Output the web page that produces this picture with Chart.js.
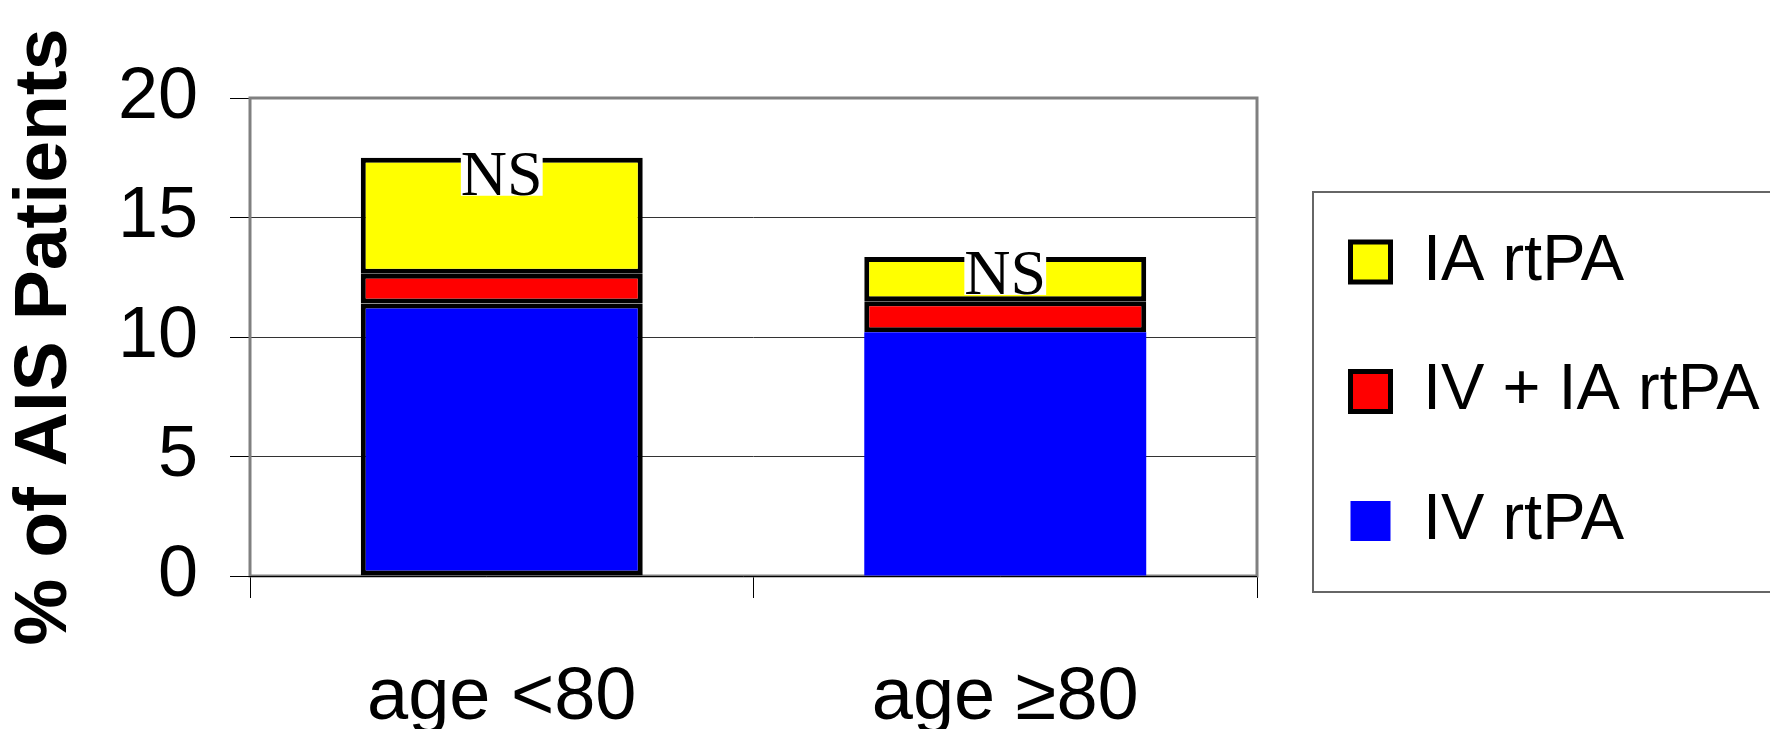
<!DOCTYPE html>
<html>
<head>
<meta charset="utf-8">
<script src="https://cdn.jsdelivr.net/npm/chart.js@4.4.1/dist/chart.umd.min.js"></script>
<style>
  html, body { margin: 0; padding: 0; background: #fff; overflow: hidden; }
  #wrap { width: 1770px; height: 729px; position: relative; }
</style>
</head>
<body>
<div id="wrap"><canvas id="rtpaChart"></canvas></div>
<script>
// Data
const categories = ['age <80', 'age \u226580'];
const ivRtpa = [11.4, 10.2];
const ivIaRtpa = [1.25, 1.3];
const iaRtpa = [4.85, 1.85];
const sigLabels = ['NS', 'NS'];
const yTicks = [0, 5, 10, 15, 20];

const sans = 'Arial, "Liberation Sans", sans-serif';

// grey frame around the plot area + black baseline
const plotFrame = {
    id: 'plotFrame',
    beforeDatasetsDraw(chart) {
        const { ctx, chartArea: a } = chart;
        ctx.save();
        ctx.strokeStyle = '#808080';
        ctx.lineWidth = 3;
        ctx.strokeRect(a.left, a.top, a.right - a.left, a.bottom - a.top);
        ctx.strokeStyle = '#000';
        ctx.lineWidth = 1;
        ctx.beginPath();
        ctx.moveTo(a.left - 20, a.bottom + 0.5);
        ctx.lineTo(a.right, a.bottom + 0.5);
        ctx.stroke();
        ctx.restore();
    }
};

// "NS" labels with white backing on top of each stack
const nsLabels = {
    id: 'nsLabels',
    afterDatasetsDraw(chart) {
        const { ctx } = chart;
        const meta = chart.getDatasetMeta(chart.data.datasets.length - 1);
        ctx.save();
        ctx.font = '64px "Liberation Serif", "Times New Roman", serif';
        ctx.textAlign = 'center';
        ctx.textBaseline = 'alphabetic';
        meta.data.forEach((bar, i) => {
            const txt = sigLabels[i];
            const w = ctx.measureText(txt).width;
            const base = bar.y + 37;
            ctx.fillStyle = '#fff';
            ctx.fillRect(bar.x - w / 2, base - 43, w, 44);
            ctx.fillStyle = '#000';
            ctx.fillText(txt, bar.x, base);
        });
        ctx.restore();
    }
};

// legend: fixed width, placed like the original and framed
const legendPlace = {
    id: 'legendPlace',
    beforeInit(chart) {
        const lg = chart.legend;
        if (!lg) return;
        const fit = lg.fit;
        lg.fit = function () {
            fit.call(this);
            this.width = 513;
        };
    },
    afterLayout(chart) {
        const lg = chart.legend;
        if (!lg) return;
        const w = lg.width, h = lg.height;
        lg.left = 1286; lg.right = lg.left + w;
        lg.top = 165; lg.bottom = lg.top + h;
    },
    afterDraw(chart) {
        const { ctx } = chart;
        ctx.save();
        ctx.strokeStyle = '#666';
        ctx.lineWidth = 2;
        ctx.strokeRect(1313, 192, 520, 400);
        ctx.restore();
    }
};

const ctx = document.getElementById('rtpaChart').getContext('2d');
new Chart(ctx, {
    type: 'bar',
    data: {
        labels: categories,
        datasets: [
            {
                label: 'IV rtPA',
                data: ivRtpa,
                backgroundColor: '#0000ff',
                borderColor: '#000',
                borderWidth: c => (c.dataIndex === 0 ? 5 : 0),
                borderSkipped: false
            },
            {
                label: 'IV + IA rtPA',
                data: ivIaRtpa,
                backgroundColor: '#ff0000',
                borderColor: '#000',
                borderWidth: 5,
                borderSkipped: false
            },
            {
                label: 'IA rtPA',
                data: iaRtpa,
                backgroundColor: '#ffff00',
                borderColor: '#000',
                borderWidth: 5,
                borderSkipped: false
            }
        ]
    },
    options: {
        responsive: true,
        maintainAspectRatio: false,
        animation: false,
        layout: { padding: { top: 98, left: 0, right: 0, bottom: 0 } },
        datasets: { bar: { categoryPercentage: 1, barPercentage: 0.56 } },
        plugins: {
            tooltip: { enabled: false },
            legend: {
                position: 'right',
                align: 'start',
                reverse: true,
                labels: {
                    color: '#000',
                    font: { family: sans, size: 65 },
                    boxWidth: 40,
                    boxHeight: 40,
                    padding: 64.5,
                    generateLabels: chart =>
                        Chart.defaults.plugins.legend.labels.generateLabels(chart)
                            .map(l => ({ ...l, lineWidth: l.datasetIndex === 0 ? 0 : 5 }))
                }
            }
        },
        scales: {
            x: {
                stacked: true,
                afterFit: s => { s.height = 153; },
                border: { display: false },
                grid: { display: true, drawOnChartArea: false, offset: true, tickLength: 22, color: '#000' },
                ticks: {
                    color: '#000',
                    padding: 60,
                    maxRotation: 0,
                    font: { family: sans, size: 74, lineHeight: 1.1 }
                }
            },
            y: {
                stacked: true,
                min: 0,
                max: 20,
                afterBuildTicks: axis => { axis.ticks = yTicks.map(v => ({ value: v })); },
                afterFit: s => { s.width = 250; },
                border: { display: false },
                grid: { color: '#333', tickColor: '#000', tickLength: 20 },
                ticks: {
                    color: '#000',
                    padding: 32,
                    font: { family: sans, size: 72 }
                },
                title: {
                    display: true,
                    text: '% of AIS Patients',
                    color: '#000',
                    padding: { top: 0, bottom: 28 },
                    font: { family: sans, size: 75, weight: 'bold', lineHeight: 1.2 }
                }
            }
        }
    },
    plugins: [plotFrame, nsLabels, legendPlace]
});
</script>
</body>
</html>
